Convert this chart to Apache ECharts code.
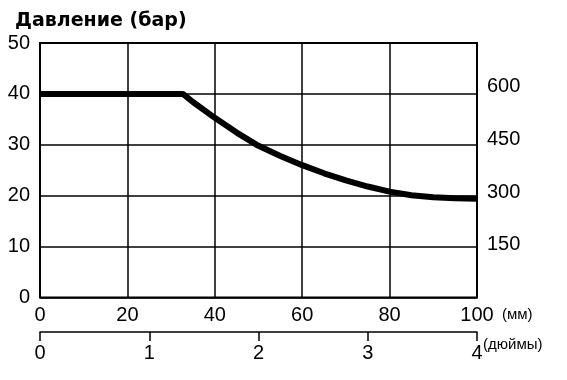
<!DOCTYPE html>
<html>
<head>
<meta charset="utf-8">
<script src="https://cdn.jsdelivr.net/npm/echarts@6/dist/echarts.min.js"></script>
<style>html,body{margin:0;padding:0;background:#fff}#c{width:567px;height:380px}</style>
</head>
<body>
<div id="c"></div>
<script>
var titleText = 'Давление (бар)';
var mmUnit = '(мм)';
var inchUnit = '(дюймы)';
var strokeMm = [0, 32.7, 35, 40, 45, 50, 55, 60, 65, 70, 75, 80, 85, 90, 95, 100];
var pressureBar = [40, 40, 38.4, 35.3, 32.4, 29.8, 27.8, 26.0, 24.4, 23.0, 21.8, 20.8, 20.1, 19.7, 19.5, 19.4];
var psiTicks = [150, 300, 450, 600];
var barToPsi = 14.5038;

var FONT = "'Liberation Sans','Arial',sans-serif";
var chart = echarts.init(document.getElementById('c'), null, {renderer: 'canvas'});
var data = strokeMm.map(function (x, i) { return [x, pressureBar[i]]; });

chart.setOption({
  animation: false,
  backgroundColor: '#fff',
  title: {
    text: titleText, left: 10, top: 7,
    textStyle: {fontFamily: "'DejaVu Sans',sans-serif", fontWeight: 'bold', fontSize: 19, color: '#000'}
  },
  graphic: [
    {type: 'text', left: 502, top: 307, style: {text: mmUnit, font: '15px ' + FONT, fill: '#000'}},
    {type: 'text', left: 483, top: 337, style: {text: inchUnit, font: '15px ' + FONT, fill: '#000'}}
  ],
  grid: [
    {left: 40, right: 90, top: 43, bottom: 82.5, show: true, borderColor: '#000', borderWidth: 2, containLabel: false},
    {left: 40, right: 90, top: 310, bottom: 48, show: false, containLabel: false}
  ],
  xAxis: [
    {
      type: 'value', gridIndex: 0, min: 0, max: 100, interval: 20, position: 'bottom',
      axisLine: {show: false}, axisTick: {show: false},
      axisLabel: {fontFamily: FONT, fontSize: 20, color: '#000', margin: 8},
      splitLine: {show: true, lineStyle: {color: '#000', width: 1.5}}
    },
    {
      type: 'value', gridIndex: 1, min: 0, max: 4, interval: 1, position: 'bottom',
      axisLine: {show: true, lineStyle: {color: '#000', width: 1.5}},
      axisTick: {show: true, length: 9, lineStyle: {color: '#000', width: 1.5}},
      axisLabel: {fontFamily: FONT, fontSize: 20, color: '#000', margin: 11},
      splitLine: {show: false}
    }
  ],
  yAxis: [
    {
      type: 'value', gridIndex: 0, min: 0, max: 50, interval: 10, position: 'left',
      axisLine: {show: false}, axisTick: {show: false},
      axisLabel: {fontFamily: FONT, fontSize: 20, color: '#000', margin: 10},
      splitLine: {show: true, lineStyle: {color: '#000', width: 1.5}}
    },
    {
      type: 'value', gridIndex: 0, min: 0, max: 50 * barToPsi, interval: 150, position: 'right',
      axisLine: {show: false}, axisTick: {show: false},
      axisLabel: {
        fontFamily: FONT, fontSize: 20, color: '#000', margin: 10,
        formatter: function (v) { return psiTicks.indexOf(Math.round(v)) >= 0 && Math.abs(v - Math.round(v)) < 1e-6 ? String(Math.round(v)) : ''; }
      },
      splitLine: {show: false}
    },
    {
      type: 'value', gridIndex: 1, min: 0, max: 1, show: false
    }
  ],
  series: [{
    type: 'line', xAxisIndex: 0, yAxisIndex: 0, data: data, smooth: false,
    showSymbol: false, lineStyle: {color: '#000', width: 6, join: 'round'}, z: 5
  }]
});
</script>
</body>
</html>
